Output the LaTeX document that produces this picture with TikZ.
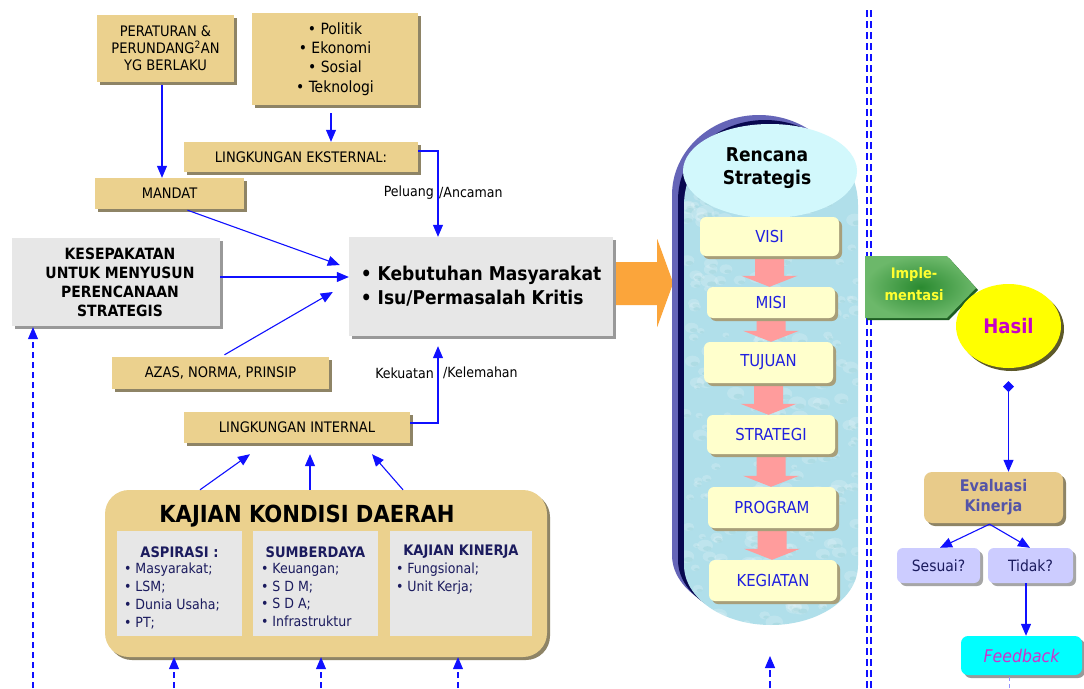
\documentclass[tikz,border=0pt]{standalone}
\usepackage{fontspec}
\setmainfont{DejaVu Sans Condensed}[
  BoldFont={DejaVu Sans Condensed Bold},
  ItalicFont={DejaVu Sans Condensed Oblique},
  BoldItalicFont={DejaVu Sans Condensed Bold Oblique}]
\usetikzlibrary{arrows.meta,calc,shadows,shapes.geometric}

\definecolor{boxtan}{HTML}{EBD18E}
\definecolor{boxgray}{HTML}{E7E7E7}
\definecolor{shadowtan}{HTML}{8E8466}
\definecolor{linkblue}{HTML}{1010FF}
\definecolor{navy}{HTML}{1B1B5E}
\definecolor{steptext}{HTML}{2020E0}
\definecolor{stepfill}{HTML}{FFFFCC}
\definecolor{stepshadow}{HTML}{A89F7A}
\definecolor{pinkflow}{HTML}{FF9C9C}
\definecolor{orangeflow}{HTML}{FBA53B}
\definecolor{capouter}{HTML}{6565B8}
\definecolor{capnavy}{HTML}{080850}
\definecolor{water}{HTML}{B0DFEA}
\definecolor{capcap}{HTML}{D2F8FC}
\definecolor{implout}{HTML}{6CB86A}
\definecolor{implin}{HTML}{2A8A30}
\definecolor{impledge}{HTML}{1E5E22}
\definecolor{impltext}{HTML}{FFFF30}
\definecolor{hasilfill}{HTML}{FFFF00}
\definecolor{magentatext}{HTML}{C800C8}
\definecolor{evalfill}{HTML}{E8CB8A}
\definecolor{evaltext}{HTML}{5454A8}
\definecolor{askfill}{HTML}{CCCCFF}
\definecolor{feedfill}{HTML}{00FFFF}
\definecolor{feedtext}{HTML}{CC33CC}

\pgfdeclarelayer{back}
\pgfdeclarelayer{flow}
\pgfsetlayers{back,flow,main}

\newcommand\fs[2]{\fontsize{#1}{#2}\selectfont}
\newcommand\itm{\textbullet\hspace{4pt}}
\newcommand\nudge{\hspace*{8pt}}

% outline of the strategic plan capsule, shifted by (#2,#3)
\newcommand\capshape[3]{%
  \fill[#1] ($(684,205)+(#2,#3)$) arc[start angle=180,end angle=360,x radius=87,y radius=80]
    -- ($(858,565)+(#2,#3)$) arc[start angle=0,end angle=180,x radius=87,y radius=60] -- cycle;}

\begin{document}
\begin{tikzpicture}[x=1pt,y=-1pt,
  every node/.style={inner sep=0pt, align=center, text=black, font=\fs{14.5}{17}},
  dropped/.style={drop shadow={shadow xshift=3pt, shadow yshift=-3pt, opacity=1, fill=#1}},
  tanbox/.style={fill=boxtan, dropped=shadowtan},
  graybox/.style={fill=boxgray, dropped=black!40},
  panel/.style={fill=boxgray},
  head/.style={font=\bfseries\fs{14.5}{17}, text=navy},
  items/.style={anchor=north west, align=left, text=navy, font=\fs{14}{17.8}},
  link/.style={draw=linkblue, line width=1.1pt, -{Triangle[length=12pt,width=10pt]}},
  dashlink/.style={link, dash pattern=on 6pt off 4pt},
  stepbox/.style={fill=stepfill, rounded corners=6pt, minimum width=128pt, minimum height=40pt,
    dropped=stepshadow, text=steptext, font=\fs{16.5}{19}},
  askbox/.style={fill=askfill, rounded corners=6pt, minimum width=84pt, minimum height=35pt,
    dropped=black!35, text=navy, font=\fs{15.5}{18}},
]
\begin{pgfonlayer}{back}
  \fill[white] (0,0) rectangle (1084,688);
\end{pgfonlayer}
\useasboundingbox (0,0) rectangle (1084,688);

% ---------- left part: inputs ----------
\node[tanbox, minimum width=137pt, minimum height=67pt] (peraturan) at (165.5,48.5)
  {PERATURAN \&\\PERUNDANG\textsuperscript{2}AN\\YG BERLAKU};
\node[tanbox, minimum width=166pt, minimum height=92pt, font=\fs{15.5}{19.3}] (politik) at (335,59)
  {\textbullet\ Politik\\\textbullet\ Ekonomi\\\textbullet\ Sosial\\\textbullet\ Teknologi};
\node[tanbox, minimum width=234pt, minimum height=30pt] (eksternal) at (301,157) {LINGKUNGAN EKSTERNAL:};
\node[tanbox, minimum width=149pt, minimum height=31pt] (mandat) at (169.5,193.5) {MANDAT};
\node[graybox, minimum width=208pt, minimum height=88pt, font=\bfseries\fs{15.5}{19}] (kesepakatan) at (116,282)
  {\nudge KESEPAKATAN\\\nudge UNTUK MENYUSUN\\\nudge PERENCANAAN\\\nudge STRATEGIS};
\node[graybox, minimum width=264pt, minimum height=99pt, align=left, font=\bfseries\fs{19}{24}] (kebutuhan) at (481,286.5)
  {\textbullet\ Kebutuhan Masyarakat\\\textbullet\ Isu/Permasalah Kritis};
\node[tanbox, minimum width=217pt, minimum height=32pt] (azas) at (220.5,373) {AZAS, NORMA, PRINSIP};
\node[tanbox, minimum width=226pt, minimum height=31pt] (internal) at (297,427.5) {LINGKUNGAN INTERNAL};

\node[anchor=east, font=\fs{14}{17}] (peluang) at (434,193) {Peluang};
\node[anchor=west, font=\fs{14}{17}] (ancaman) at (439,193) {/Ancaman};
\node[anchor=east, font=\fs{14}{17}] (kekuatan) at (434,373) {Kekuatan};
\node[anchor=west, font=\fs{14}{17}] (kelemahan) at (443,373) {/Kelemahan};

% ---------- regional assessment ----------
\node[tanbox, rounded corners=24pt, minimum width=442pt, minimum height=167pt] (kajian) at (326,573.5) {};
\node[font=\bfseries\fs{23.5}{26}] (kajiantitle) at (307,516) {KAJIAN KONDISI DAERAH};
\node[panel, minimum width=125pt, minimum height=105pt] (aspirasi) at (179.5,583.5) {};
\node[panel, minimum width=125pt, minimum height=105pt] (sumberdaya) at (315.5,583.5) {};
\node[panel, minimum width=142pt, minimum height=105pt] (kinerja) at (461,583.5) {};
\node[head] (aspirasihead) at ($(aspirasi.north)+(0,21)$) {ASPIRASI :};
\node[head] (sumberdayahead) at ($(sumberdaya.north)+(0,21)$) {SUMBERDAYA};
\node[head] (kinerjahead) at ($(kinerja.north)+(0,21)$) {KAJIAN KINERJA};
\node[items] (aspirasiitems) at ($(aspirasi.north west)+(7,32)$)
  {\itm Masyarakat;\\\itm LSM;\\\itm Dunia Usaha;\\\itm PT;};
\node[items] (sumberdayaitems) at ($(sumberdaya.north west)+(8,32)$)
  {\itm Keuangan;\\\itm S D M;\\\itm S D A;\\\itm Infrastruktur};
\node[items] (kinerjaitems) at ($(kinerja.north west)+(6,32)$)
  {\itm Fungsional;\\\itm Unit Kerja;};

% ---------- connectors on the left ----------
\draw[link] ($(peraturan.south)+(-3.5,3)$) coordinate (p1) -- (p1 |- mandat.north);
\draw[link] ($(politik.south)+(-4,8)$) coordinate (p2) -- (p2 |- eksternal.north);
\draw[link] ($(eksternal.east)+(0,-6)$) -| ($(kebutuhan.north)+(-43,0)$);
\draw[link] ($(mandat.south)+(18,1)$) -- ($(kebutuhan.west)+(-9,-21.5)$);
\draw[link] ($(kesepakatan.east)+(0,-5)$) coordinate (p3) -- (p3 -| kebutuhan.west);
\draw[link] ($(azas.north)+(4,-2)$) -- ($(kebutuhan.west)+(-16,5.5)$);
\draw[link, shorten >=10pt] ($(internal.east)+(0,-4.5)$) -| ($(kebutuhan.south)+(-43,0)$);
\draw[link] ($(kajian.north)+(-126,0)$) -- ($(internal.south)+(-47,11)$);
\draw[link] ($(kajian.north)+(-16,0)$) -- ($(internal.south)+(13,11)$);
\draw[link] ($(kajian.north)+(77,0)$) -- ($(internal.south)+(75,11)$);

\coordinate (foot0) at (33,688);
\coordinate (foot1) at (174,688);
\coordinate (foot2) at (321,688);
\coordinate (foot3) at (458,688);
\draw[dashlink, shorten >=1pt] (foot0) -- (foot0 |- kesepakatan.south);
\draw[dashlink] (foot1) -- (foot1 |- kajian.south);
\draw[dashlink] (foot2) -- (foot2 |- kajian.south);
\draw[dashlink] (foot3) -- (foot3 |- kajian.south);

% ---------- strategic plan capsule ----------
\node[stepbox, minimum width=139pt, minimum height=39pt] (visi) at (769.5,236.5) {VISI};
\node[stepbox, minimum height=31pt] (misi) at (771,302.5) {MISI};
\node[stepbox, minimum width=129pt, minimum height=41pt] (tujuan) at (768.5,362.5) {TUJUAN};
\node[stepbox, minimum height=39pt] (strategi) at (771,434.5) {STRATEGI};
\node[stepbox, minimum height=41pt] (program) at (772,507.5) {PROGRAM};
\node[stepbox, minimum height=41pt] (kegiatan) at (773,580.5) {KEGIATAN};

\begin{pgfonlayer}{back}
  % broad arrow feeding the plan
  \fill[orangeflow] ($(kebutuhan.east)+(0,-24.5)$) -- ++(44,0) -- ++(0,-23) -- ++(16,44)
    -- ++(-16,44) -- ++(0,-22) -- ++(-44,0) -- cycle;
  \capshape{capouter}{-12}{-10}
  \capshape{capnavy}{-6}{-5}
  \begin{scope}
    \clip (684,205) arc[start angle=180,end angle=360,x radius=87,y radius=80]
      -- (858,565) arc[start angle=0,end angle=180,x radius=87,y radius=60] -- cycle;
    \fill[water] (680,110) rectangle (862,630);
    % droplet texture
    \pgfmathsetseed{42}
    \foreach \k in {1,...,260}{
      \pgfmathsetmacro\bx{684+174*rnd}
      \pgfmathsetmacro\by{190+440*rnd}
      \pgfmathsetmacro\br{3+6*rnd}
      \pgfmathsetmacro\bry{0.75*\br}
      \pgfmathsetmacro\brs{0.55*\br}
      \pgfmathsetmacro\brt{0.3*\br}
      \fill[white, opacity=.18] (\bx,\by) ellipse[x radius=\br, y radius=\bry];
      \fill[water!60!teal, opacity=.18] (\bx+0.3*\br,\by+0.35*\br) ellipse[x radius=\brs, y radius=\brt];
    }
  \end{scope}
  \fill[capcap] (770,171) ellipse[x radius=87, y radius=47];
\end{pgfonlayer}
\begin{scope}
  \clip (683,120) rectangle (858,188);
  \node[font=\bfseries\fs{19}{23}] (plantitle) at (767,168.5) {Rencana\\Strategis};
\end{scope}

\newcommand\steparrow[2]{%
  \fill[pinkflow] ($(#1.south)+(-14.5,0)$) -- ($(#1.south |- #2.north)+(-14.5,-11)$)
    -- ($(#1.south |- #2.north)+(-28,-11)$) -- ($(#1.south |- #2.north)+(0,0)$)
    -- ($(#1.south |- #2.north)+(28,-11)$) -- ($(#1.south |- #2.north)+(14.5,-11)$)
    -- ($(#1.south)+(14.5,0)$) -- cycle;}
\begin{pgfonlayer}{flow}
  \steparrow{visi}{misi}
  \steparrow{misi}{tujuan}
  \steparrow{tujuan}{strategi}
  \steparrow{strategi}{program}
  \steparrow{program}{kegiatan}
\end{pgfonlayer}

\coordinate (foot4) at (770,688);
\coordinate (planfoot) at (770,656);
\draw[link, dash pattern=on 7pt off 4pt] (foot4) -- (planfoot);

% ---------- divider ----------
\draw[linkblue, line width=2.3pt, dash pattern=on 7pt off 4pt] (866.8,10) -- (866.8,688);
\draw[linkblue, line width=2.3pt, dash pattern=on 7pt off 4pt] (870.8,10) -- (870.8,688);

% ---------- implementation and evaluation ----------
\fill[impledge] (867,258) -- (949,258) -- (978,290) -- (949,320) -- (867,320) -- cycle;
\shade[inner color=implin, outer color=implout] (865,256) -- (947,256) -- (976,288) -- (947,318) -- (865,318) -- cycle;
\node[font=\bfseries\fs{14.5}{22}, text=impltext] (impl) at (914,284) {Imple-\\mentasi};

\node[ellipse, fill=hasilfill, minimum width=105pt, minimum height=84pt, dropped=black!45!olive,
  font=\bfseries\fs{20}{24}, text=magentatext] (hasil) at (1008.5,326) {Hasil};
\node[fill=evalfill, rounded corners=8pt, minimum width=139pt, minimum height=51pt, dropped=shadowtan,
  font=\bfseries\fs{16}{20}, text=evaltext] (evaluasi) at (993.5,497.5) {Evaluasi\\Kinerja};
\node[askbox, minimum width=83pt] (sesuai) at (938.5,565.5) {Sesuai?};
\node[askbox, minimum width=85pt] (tidak) at (1030.5,565.5) {Tidak?};
\node[fill=feedfill, rounded corners=7pt, minimum width=121pt, minimum height=39pt, dropped=black!40,
  font=\itshape\fs{17.5}{20}, text=feedtext] (feedback) at (1021.5,655.5) {Feedback};

\draw[link, {Diamond[length=11pt,width=11pt]}-{Triangle[length=12pt,width=10pt]}]
  ($(hasil.south)+(0,13)$) coordinate (p4) -- (p4 |- evaluasi.north);
\draw[link] ($(evaluasi.south)+(-4,1)$) -- ($(sesuai.north)+(1.5,0)$);
\draw[link] ($(evaluasi.south)+(-4,1)$) -- ($(tidak.north)+(-0.5,0)$);
\draw[link] ($(tidak.south)+(-4.5,0)$) coordinate (p5) -- (p5 |- feedback.north);
\coordinate (fbfoot) at (1009,688);
\draw[linkblue!45, line width=.8pt, dash pattern=on 4pt off 3pt] ($(feedback.south)+(-12.5,2)$) -- (fbfoot);
\end{tikzpicture}
\end{document}
